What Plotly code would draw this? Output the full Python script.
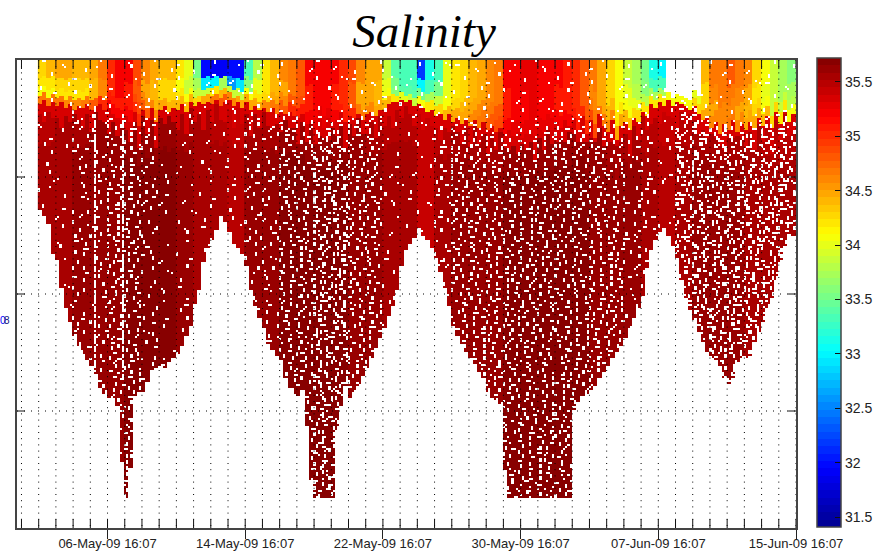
import numpy as np
import plotly.graph_objects as go

# Time axis: days relative to 06-May-09 16:07
tick_days = [0, 8, 16, 24, 32, 40]
tick_labels = ["06-May-09 16:07", "14-May-09 16:07", "22-May-09 16:07",
               "30-May-09 16:07", "07-Jun-09 16:07", "15-Jun-09 16:07"]
minor_days = list(range(-5, 41))
depth_ticks = [0, 117, 234, 351, 468]
sal_ticks = [31.5, 32, 32.5, 33, 33.5, 34, 34.5, 35, 35.5]
first_day = -4.05

# Deepest sample per quarter day
bottom = [150,155,163,194,200,228,248,262,275,285,293,300,306,318,328,333,338,338,345,402,
          437,407,335,332,331,322,310,308,306,307,302,298,293,285,275,265,244,230,202,188,
          180,170,155,162,172,183,188,194,205,230,246,258,268,284,290,295,299,318,328,334,
          336,330,365,420,438,438,438,438,438,370,345,325,337,332,325,315,308,298,288,278,
          268,255,245,230,206,190,183,178,168,175,180,188,198,212,228,246,265,275,284,292,
          298,304,311,318,332,338,340,344,410,438,438,438,438,438,438,438,438,438,438,438,
          438,438,438,438,350,342,338,334,330,325,318,312,305,298,292,285,277,267,258,247,
          235,208,190,180,172,167,175,185,198,220,238,250,260,272,283,292,300,300,305,318,
          324,317,302,297,297,295,282,272,262,248,238,220,202,185,173,176,180]

# Bottom of the fresher surface layer per quarter day
mixed = [44,40,46,42,47,43, 48,45,50,46,49,44,50,47, 45,50,48,54,58, 60,56,62,52,66,50,
         58,48,62,50,47,52,49, 50,44,52,42,47,43,45, 42,44,41,46,42,40,46,
         43,48,42,50,47,51,48, 52,49,54,50,55,52,56, 58,54,64,60,70,56,68,58,62,
         60,53,62,56,59,54,60,55, 52,56,50,50,44,42,43, 40,43,41,46,44,48,52,
         50,56,54,60,55,62,58, 64,58,66,60,68,62,70, 66,72,68,74,70,76,72,78,74,70,
         76,70,72,66,70,62,68,60,66, 58,70,56,74,60,78,55,66, 72,60,80,66,62,70,58,
         62,52,56,44,48,42,46, 40,46,42,44,47,50,46, 54,60,56,68,62,74,64,70,
         60,72,64,70,62,68,58,66, 56,68,52,64,50,62,54,60]
# Length of the bright transition teeth under the surface layer, repeated along the record
tooth = [10, 22, 6, 16, 12, 26, 8, 18, 4, 14, 20]
tooth_sal = 35.38

# Surface layer salinity per half day, upper to lower part of the layer
N = None
sal_a = [34.3,34.4,34.5,34.5,34.4,34.4,34.5,34.7,35.0,35.2,35.2,34.9,34.6,34.5,34.4,34.4,34.2,34.0,33.5,
         32.0,31.9,31.9,32.0,32.0,33.3,33.8,34.2,34.4,34.6,34.7,34.8,35.2,35.2,35.2,35.2,35.0,34.9,34.6,
         34.5,34.5,33.9,33.4,33.3,33.3,32.2,33.1,33.3,34.0,34.2,34.3,34.4,34.5,34.6,34.7,35.2,35.2,35.3,
         35.3,35.2,35.2,35.2,35.1,35.0,34.8,34.7,34.5,34.3,34.1,33.9,33.7,33.5,33.1,33.0,N,N,N,N,
         34.4,34.7,34.7,34.8,34.7,34.6,34.3,34.1,33.9,33.7,33.6,33.6]
sal_b = [34.2,34.2,34.3,34.3,34.3,34.3,34.4,34.6,35.0,35.2,35.1,34.8,34.5,34.4,34.3,34.3,34.1,33.9,33.7,
         32.9,33.0,33.7,32.6,32.9,33.6,34.0,34.2,34.4,34.5,34.7,34.8,35.1,35.2,35.2,35.1,35.0,34.8,34.5,
         34.5,34.4,34.0,33.5,33.3,33.3,33.0,33.3,33.5,34.0,34.2,34.3,34.4,34.5,34.6,34.7,35.1,35.2,35.2,
         35.3,35.2,35.2,35.1,35.1,35.0,34.8,34.6,34.5,34.3,34.1,34.0,33.8,33.6,33.3,33.3,N,N,N,N,
         34.3,34.6,34.7,34.7,34.6,34.5,34.2,34.0,33.9,33.7,33.7,33.7]
sal_c = [34.1,34.1,34.2,34.2,34.2,34.2,34.4,34.6,35.1,35.1,35.1,34.9,34.6,34.4,34.3,34.3,34.2,34.1,33.9,
         33.9,34.2,34.4,33.9,33.9,34.1,34.2,34.3,34.5,34.6,34.8,34.9,35.1,35.2,35.2,35.1,35.0,34.8,34.5,
         34.5,34.4,34.1,33.6,33.4,33.4,33.5,33.7,33.9,34.1,34.3,34.4,34.5,34.6,34.7,34.8,35.1,35.2,35.2,
         35.3,35.2,35.2,35.1,35.1,35.0,34.8,34.7,34.5,34.4,34.2,34.1,34.0,33.8,33.7,33.7,N,N,N,34.0,
         34.3,34.5,34.6,34.6,34.5,34.4,34.3,34.1,33.9,33.9,33.8,33.8]
sal_d = [34.7,34.7,34.7,34.6,34.6,34.7,34.8,35.0,35.2,35.2,35.2,35.0,34.8,34.6,34.5,34.4,34.4,34.4,34.3,
         34.5,34.7,34.8,34.6,34.5,34.5,34.5,34.6,34.7,34.8,35.0,35.1,35.2,35.3,35.3,35.2,35.1,35.0,34.7,
         34.6,34.5,34.4,34.2,34.0,33.9,34.1,34.2,34.3,34.4,34.5,34.5,34.6,34.7,34.8,34.9,35.2,35.3,35.3,
         35.3,35.3,35.3,35.2,35.2,35.1,35.0,34.9,34.7,34.6,34.5,34.4,34.3,34.2,34.2,34.2,34.1,34.1,34.1,34.3,
         34.5,34.6,34.6,34.7,34.6,34.5,34.5,34.4,34.3,34.2,34.1,34.1]
band_tops = [0.0, 0.4, 0.65, 0.82]

# Deep water salinity per day
deep = [35.55,35.58,35.62,35.65,35.65,35.66,35.68,35.66,35.62,35.58,35.52,35.5,35.6,35.62,35.66,
        35.68,35.68,35.68,35.65,35.6,35.56,35.52,35.45,35.55,35.6,35.6,35.62,35.66,35.68,35.68,
        35.68,35.66,35.64,35.62,35.6,35.55,35.48,35.55,35.6,35.6,35.6,35.58,35.55,35.52,35.5]

# Missing samples: how dense they are per day, their pattern, and near-empty profiles
gap_level = [1,1,2,2,3,3,2,1,1,1,1,1,2,2,3,3,4,4,3,3,1,1,1,2,3,3,3,3,3,3,3,3,3,3,2,2,1,4,4,4,4,4,4,4,4]
gap_tile = [
 "..11.........2.......33......1.......2.....3....",
 ".......2.........3..........22....3.......1.....",
 ".3.....2...1.........2..3..........33......1....",
 ".3..........1...33.........1...2...........1...3",
 "......222.......3.....1.......2.....2..........3",
 "..2..........3........1..3..........2...33......",
 "..2...1...33.....2.........3.33.............2...",
 "......1..........2...3.....3......1...3.........",
 ".33.........2........3..2.........1...3...22....",
 "......3.....2...11.........2...3.............1..",
 "...2..3.............2.33...2...3...22...........",
 "...2.......3..1.....2.............3........3....",
 "..........33..1...3.....1....2....3..2.....3..33",
 ".1....2...........3.....1....2.......2..........",
 ".1....2...33..2........3.........11.......3.....",
 "...3.........2...1.....3...22.........2...3..2..",
 "...3...11........1..3..............3..2......2..",
 "...........3.2......3...2...3......3......1.....",
 ".22........3.2.........2....3..1.........1......",
 "......1........33.....2.......1..33.........3...",
 "..3...1....2.........3....2...........2.....3...",
 "..3........2...1.....3....2...33......2.........",
 "......33.......1.......2.........1......33...1..",
 ".2.........3.......22.........2..1.............1",
 ".2....2....3..33..........3...2......3...2......",
 "......2.........1....3....3..........3...2...33.",
 "...1.......2....1....3.........22.........3.....",
 "...1..33...2.........3...2.............1..3...2.",
 ".........3.....22........2...3.........1......2.",
 ".33......3..........1........3...33.......2.....",
]
streak_days = [-0.75, 0.85]
streak_rows = "##.###.##.####.#.###"

stops = [(0.0, (0, 0, 143)), (0.125, (0, 0, 255)), (0.375, (0, 255, 255)),
         (0.625, (255, 255, 0)), (0.875, (255, 0, 0)), (1.0, (128, 0, 0))]
sal_min, sal_max = 31.41, 35.72
levels = 64

# Colormap in discrete steps
pos = [s[0] for s in stops]
chan = [[s[1][n] for s in stops] for n in range(3)]
colorscale = []
for n in range(levels):
    col = [int(round(np.interp((n + 0.5) / levels, pos, c))) for c in chan]
    colorscale.append([n / levels, f"rgb({col[0]},{col[1]},{col[2]})"])
    colorscale.append([(n + 1) / levels, f"rgb({col[0]},{col[1]},{col[2]})"])


def tile_mark(r, c):
    row_text = gap_tile[(r + 7 * (c // 48)) % len(gap_tile)]
    return row_text[(c + 11 * (r // 30)) % len(row_text)]


# Cell grid: each quarter-day profile takes two cells, rows are 2 units tall
n_cols = len(bottom) * 2
n_rows = 234
x_cells = [first_day + (c + 0.5) / 8 for c in range(n_cols)]
y_cells = [2 * r + 1 for r in range(n_rows)]
z = np.full((n_rows, n_cols), np.nan)
bands = [sal_a, sal_b, sal_c, sal_d]
for c in range(n_cols):
    q = c // 2
    h = min(q // 2, len(sal_a) - 1)
    d = min(q // 4, len(deep) - 1)
    streak = any(abs(x_cells[c] - s) < 0.0625 for s in streak_days)
    for r in range(n_rows):
        depth = y_cells[r]
        if depth > bottom[q]:
            continue
        mark = tile_mark(r, c)
        if depth < mixed[q]:
            frac = depth / mixed[q]
            band = sum(frac >= t for t in band_tops) - 1
            value = bands[band][h]
            if mark == "1":
                continue
            z[r, c] = np.nan if value is None else value
        else:
            if mark != "." and int(mark) <= gap_level[d]:
                continue
            if gap_level[d] == 4 and tile_mark(r + 13, c + 23) in "12":
                continue
            if streak and depth < 320 and streak_rows[r % len(streak_rows)] == "#":
                continue
            if depth < mixed[q] + tooth[q % len(tooth)]:
                z[r, c] = tooth_sal
            else:
                z[r, c] = deep[d] - (0.05 if depth < mixed[q] + 40 else 0)

fig = go.Figure()
fig.add_trace(go.Heatmap(
    x=x_cells, y=y_cells, z=z, zmin=sal_min, zmax=sal_max, colorscale=colorscale,
    hoverongaps=False,
    colorbar=dict(x=800 / 779, xanchor="left", xpad=0, y=470 / 468, yanchor="top", ypad=0,
                  len=469 / 468, lenmode="fraction", thickness=24, thicknessmode="pixels",
                  outlinecolor="#444", outlinewidth=1.5,
                  tickmode="array", tickvals=sal_ticks, ticktext=[f"{t:g}" for t in sal_ticks],
                  ticks="inside", ticklen=6, tickcolor="#111", tickwidth=1,
                  tickfont=dict(family="Liberation Sans", size=14, color="#222")),
))


def segments(pairs):
    xs, ys = [], []
    for (x0, y0, x1, y1) in pairs:
        xs += [x0, x1, None]
        ys += [y0, y1, None]
    return xs, ys


day_min, day_max = -5.26, 40.0
# Dotted grid above the data
gx, gy = segments([(d, 0, d, 468) for d in minor_days])
fig.add_trace(go.Scatter(x=gx, y=gy, mode="lines", hoverinfo="skip", showlegend=False,
                         line=dict(color="#000", width=1, dash="1px,5.2px")))
gx, gy = segments([(day_min, t, day_max, t) for t in depth_ticks[1:-1]])
fig.add_trace(go.Scatter(x=gx, y=gy, mode="lines", hoverinfo="skip", showlegend=False,
                         line=dict(color="#000", width=1, dash="1px,6px")))
# Inward ticks on all sides
tx = [(d, 0, d, 9) for d in minor_days] + [(d, 468, d, 459) for d in minor_days]
tx += [(day_min, t, day_min + 0.46, t) for t in depth_ticks[1:-1]]
tx += [(day_max, t, day_max - 0.46, t) for t in depth_ticks[1:-1]]
gx, gy = segments(tx)
fig.add_trace(go.Scatter(x=gx, y=gy, mode="lines", hoverinfo="skip", showlegend=False,
                         line=dict(color="#111", width=1)))

fig.update_layout(
    width=879, height=555, margin=dict(l=17, r=83, t=60, b=27, autoexpand=False),
    paper_bgcolor="white", plot_bgcolor="white", showlegend=False,
    title=dict(text="Salinity", x=424 / 879, xref="container", xanchor="center",
               y=1 - 31 / 555, yref="container", yanchor="middle",
               font=dict(family="Liberation Serif", size=47, color="#000", style="italic")),
    xaxis=dict(range=[day_min, day_max], tickmode="array", tickvals=tick_days, ticktext=tick_labels,
               ticks="outside", ticklen=9, tickcolor="#222", showgrid=False, zeroline=False,
               ticklabelstandoff=-6,
               showline=True, linecolor="#444", linewidth=1.5, mirror=True,
               tickfont=dict(family="Liberation Sans", size=13, color="#222")),
    yaxis=dict(range=[468, 0], tickmode="array", tickvals=depth_ticks,
               ticktext=[""] * len(depth_ticks), ticks="", showgrid=False, zeroline=False,
               showline=True, linecolor="#444", linewidth=1.5, mirror=True),
    annotations=[
        dict(text="0", x=-14 / 779, y=(528 - 320) / 468, xref="paper", yref="paper", showarrow=False,
             xanchor="center", font=dict(family="Liberation Sans", size=10, color="#0000ff")),
        dict(text="8", x=-10.5 / 779, y=(528 - 320) / 468, xref="paper", yref="paper", showarrow=False,
             xanchor="center", font=dict(family="Liberation Sans", size=10, color="#101080")),
    ],
)

fig.write_html("out.html", config={"displayModeBar": False},
               post_script="document.body.style.margin='0';")
